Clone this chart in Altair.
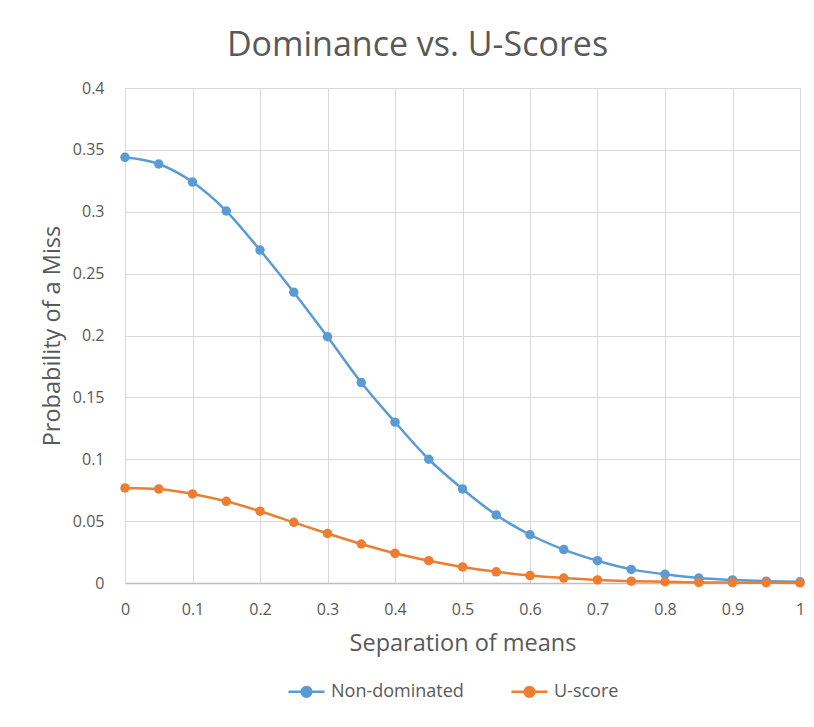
import altair as alt
import pandas as pd

separation = [0, 0.05, 0.1, 0.15, 0.2, 0.25, 0.3, 0.35, 0.4, 0.45, 0.5,
              0.55, 0.6, 0.65, 0.7, 0.75, 0.8, 0.85, 0.9, 0.95, 1.0]
non_dominated = [0.344, 0.3386, 0.324, 0.3006, 0.269, 0.235, 0.199, 0.162, 0.130, 0.100, 0.076,
                 0.055, 0.039, 0.027, 0.018, 0.011, 0.007, 0.004, 0.0025, 0.0015, 0.001]
u_score = [0.0768, 0.076, 0.072, 0.066, 0.058, 0.049, 0.040, 0.0315, 0.024, 0.018, 0.013,
           0.009, 0.006, 0.004, 0.0025, 0.0015, 0.001, 0.0005, 0.0003, 0.0002, 0.0001]
series_names = ["Non-dominated", "U-score"]
series_colors = ["#5B9BD5", "#ED7D31"]

rows = []
for x, a, b in zip(separation, non_dominated, u_score):
    rows.append({"sep": x, "prob": a, "series": series_names[0]})
    rows.append({"sep": x, "prob": b, "series": series_names[1]})
df = pd.DataFrame(rows)

FONT = "Open Sans"
TXT = "#595959"

xenc = alt.X("sep:Q", title="Separation of means",
             scale=alt.Scale(domain=[0, 1], nice=False, zero=False),
             axis=alt.Axis(values=[0, 0.1, 0.2, 0.3, 0.4, 0.5, 0.6, 0.7, 0.8, 0.9, 1],
                           labelExpr="format(datum.value, '~g')", labelFlush=False,
                           ticks=False, domain=True, domainColor="#BFBFBF", domainWidth=1.3,
                           grid=True, gridColor="#D9D9D9", labelPadding=18,
                           labelFontSize=16, labelColor=TXT, labelFont=FONT,
                           titleFontSize=23.5, titleColor=TXT, titleFont=FONT,
                           titleFontWeight="normal", titlePadding=14))
yenc = alt.Y("prob:Q", title="Probability of a Miss",
             scale=alt.Scale(domain=[0, 0.4], nice=False),
             axis=alt.Axis(values=[0, 0.05, 0.1, 0.15, 0.2, 0.25, 0.3, 0.35, 0.4],
                           labelExpr="format(datum.value, '~g')",
                           ticks=False, domain=False, grid=True, gridColor="#D9D9D9",
                           labelPadding=21, labelFontSize=16, labelColor=TXT, labelFont=FONT,
                           titleFontSize=23.5, titleColor=TXT, titleFont=FONT,
                           titleFontWeight="normal", titlePadding=8))
color_scale = alt.Scale(domain=series_names, range=series_colors)

legend_path = ("M-1,0L1,0M-0.27,0A0.27,0.27,0,1,1,0.27,0"
               "A0.27,0.27,0,1,1,-0.27,0Z")
legend = alt.Legend(orient="none", direction="horizontal",
                    legendX=162, legendY=584,
                    symbolType=legend_path, symbolSize=1296,
                    symbolStrokeWidth=2.5, labelOffset=5,
                    columnPadding=42, symbolOpacity=1,
                    labelFontSize=18, labelColor=TXT, labelFont=FONT)

lines = alt.Chart(df).mark_line(interpolate="monotone", strokeWidth=2.5).encode(
    x=xenc, y=yenc,
    color=alt.Color("series:N", scale=color_scale, title=None, legend=legend),
)

points = alt.Chart(df).mark_point(filled=True, size=90, opacity=1).encode(
    x=xenc, y=yenc,
    color=alt.Color("series:N", scale=color_scale, title=None, legend=legend),
)

left_border = alt.Chart(df).mark_rule(color="#D9D9D9", strokeWidth=1.3).encode(
    x=alt.value(-118), y=alt.value(-88), y2=alt.value(639)
)
right_border = alt.Chart(df).mark_rule(color="#D9D9D9", strokeWidth=1.3).encode(
    x=alt.value(685), y=alt.value(-88), y2=alt.value(639)
)

chart = alt.layer(left_border, right_border, lines, points).properties(
    width=675, height=495,
    title=alt.TitleParams("Dominance vs. U-Scores", fontSize=34, color=TXT, font=FONT,
                          fontWeight="normal", anchor="middle", dx=-45, offset=-64),
    autosize=alt.AutoSizeParams(type="none"),
    padding={"left": 117, "top": 80, "right": 6, "bottom": 136},
).configure_view(stroke=None).configure(background="white")

chart.save("out.html", embed_options={"renderer": "svg", "actions": False})
